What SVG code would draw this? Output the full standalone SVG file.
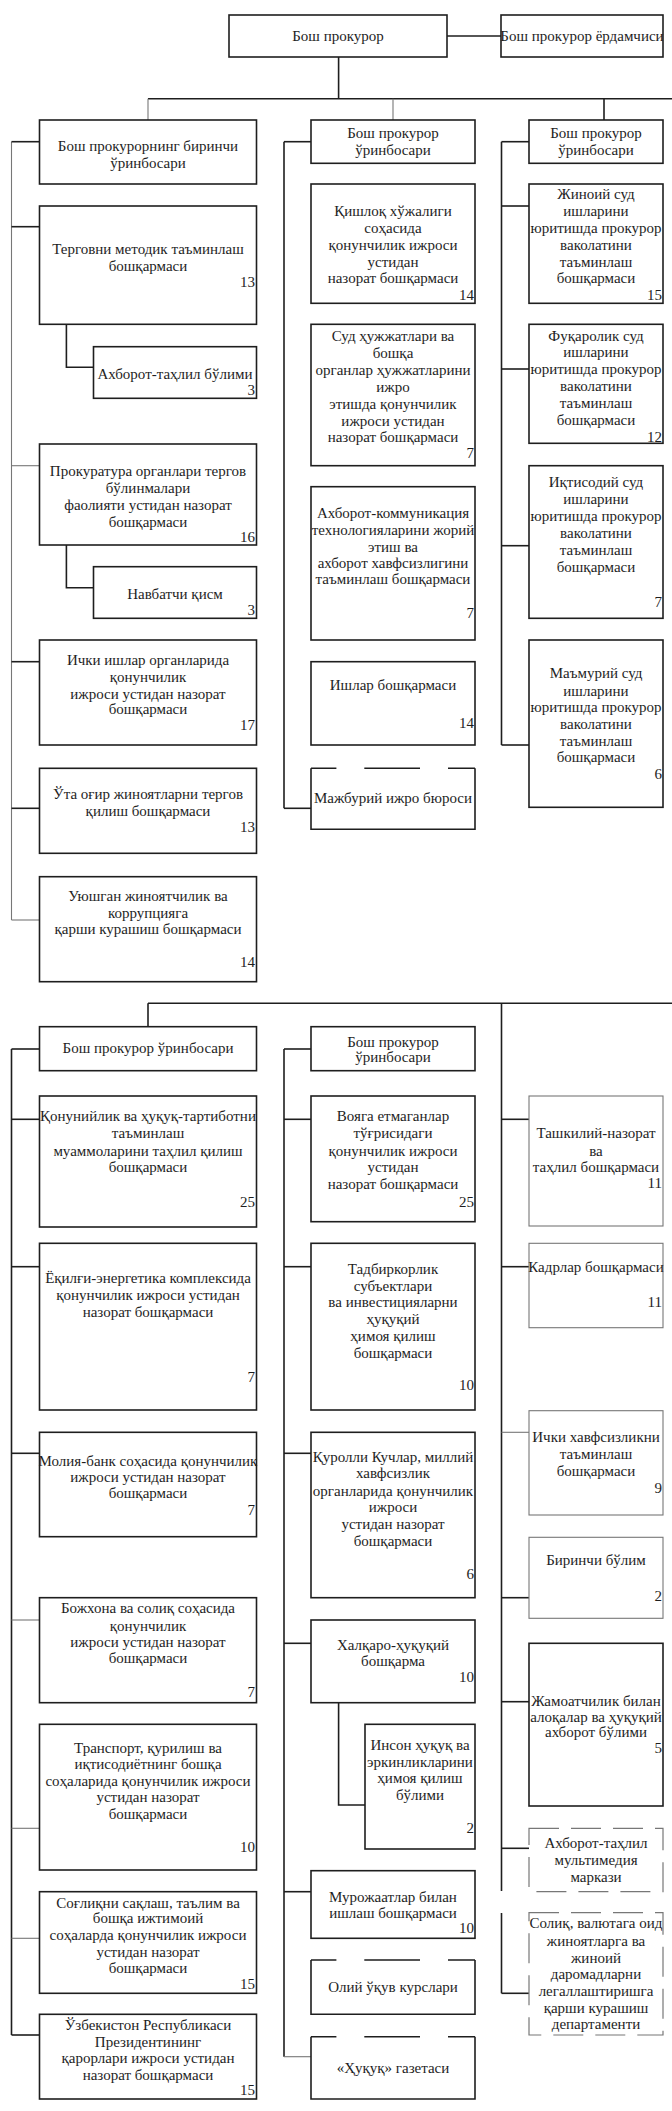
<svg xmlns="http://www.w3.org/2000/svg" width="672" height="2111" viewBox="0 0 672 2111">
<style>
.b{fill:#fff;stroke:#1e1e1e;stroke-width:1.6}
.g{fill:#fff;stroke:#777;stroke-width:1.1}
.nb{fill:#fff;stroke:none}
.e{fill:none;stroke:#1e1e1e;stroke-width:1.6}
.dd{fill:none;stroke:#777;stroke-width:1.2;stroke-dasharray:30 12}
.c{fill:none;stroke:#1e1e1e;stroke-width:1.6}
.cg{fill:none;stroke:#777;stroke-width:1.1}
text{font-family:"Liberation Serif","Times New Roman",serif;font-size:15px;fill:#1e1e1e;text-anchor:middle}
text.n{text-anchor:end}
</style>
<rect width="672" height="2111" fill="#fff"/>
<g id="connectors">
<line class="c" x1="447" y1="36" x2="501" y2="36"/>
<line class="c" x1="338.6" y1="57" x2="338.6" y2="98.7"/>
<line class="c" x1="148" y1="98.7" x2="672" y2="98.7"/>
<line class="cg" x1="148" y1="98.7" x2="148" y2="120"/>
<line class="cg" x1="393" y1="98.7" x2="393" y2="120"/>
<line class="c" x1="604" y1="98.7" x2="604" y2="120"/>
<line class="cg" x1="11.5" y1="141.7" x2="11.5" y2="920"/>
<line class="c" x1="11.5" y1="141.7" x2="39.5" y2="141.7"/>
<line class="c" x1="11.5" y1="226.7" x2="39.5" y2="226.7"/>
<line class="cg" x1="11.5" y1="465.7" x2="39.5" y2="465.7"/>
<line class="c" x1="11.5" y1="661.7" x2="39.5" y2="661.7"/>
<line class="c" x1="11.5" y1="808.3" x2="39.5" y2="808.3"/>
<line class="cg" x1="11.5" y1="920" x2="39.5" y2="920"/>
<polyline class="c" points="66.4,324.3 66.4,367.3 93.5,367.3"/>
<polyline class="c" points="66.4,545 66.4,587.7 93.5,587.7"/>
<line class="c" x1="284" y1="141.7" x2="284" y2="808.3"/>
<line class="c" x1="284" y1="141.7" x2="311" y2="141.7"/>
<line class="c" x1="284" y1="808.3" x2="311" y2="808.3"/>
<line class="c" x1="501.5" y1="141.7" x2="501.5" y2="745"/>
<line class="c" x1="501.5" y1="141.7" x2="529" y2="141.7"/>
<line class="c" x1="501.5" y1="206" x2="529" y2="206"/>
<line class="c" x1="501.5" y1="369" x2="529" y2="369"/>
<line class="c" x1="501.5" y1="545.7" x2="529" y2="545.7"/>
<line class="c" x1="501.5" y1="745" x2="529" y2="745"/>
<line class="c" x1="148" y1="1003.3" x2="672" y2="1003.3"/>
<line class="c" x1="148" y1="1003.3" x2="148" y2="1026.7"/>
<line class="c" x1="501.5" y1="1003.3" x2="501.5" y2="1891"/>
<line class="c" x1="501.5" y1="1913" x2="501.5" y2="1993.3"/>
<line class="c" x1="11.5" y1="1049" x2="11.5" y2="2035"/>
<line class="c" x1="11.5" y1="1049" x2="39.5" y2="1049"/>
<line class="c" x1="11.5" y1="1119.3" x2="39.5" y2="1119.3"/>
<line class="c" x1="11.5" y1="1266.7" x2="39.5" y2="1266.7"/>
<line class="c" x1="11.5" y1="1453.3" x2="39.5" y2="1453.3"/>
<line class="cg" x1="11.5" y1="1620" x2="39.5" y2="1620"/>
<line class="cg" x1="11.5" y1="1828.3" x2="39.5" y2="1828.3"/>
<line class="cg" x1="11.5" y1="1938.3" x2="39.5" y2="1938.3"/>
<line class="c" x1="11.5" y1="2035" x2="39.5" y2="2035"/>
<line class="c" x1="284" y1="1049" x2="284" y2="2056.7"/>
<line class="c" x1="284" y1="1049" x2="311" y2="1049"/>
<line class="c" x1="284" y1="1119.3" x2="311" y2="1119.3"/>
<line class="c" x1="284" y1="1266.7" x2="311" y2="1266.7"/>
<line class="c" x1="284" y1="1453.3" x2="311" y2="1453.3"/>
<line class="c" x1="284" y1="1643.3" x2="311" y2="1643.3"/>
<line class="c" x1="284" y1="1891.7" x2="311" y2="1891.7"/>
<line class="cg" x1="284" y1="2056.7" x2="311" y2="2056.7"/>
<polyline class="c" points="338.6,1702.7 338.6,1805 365,1805"/>
<line class="c" x1="501.5" y1="1119.3" x2="529" y2="1119.3"/>
<line class="c" x1="501.5" y1="1266.7" x2="529" y2="1266.7"/>
<line class="cg" x1="501.5" y1="1432.3" x2="529" y2="1432.3"/>
<line class="c" x1="501.5" y1="1597.7" x2="529" y2="1597.7"/>
<line class="c" x1="501.5" y1="1701.7" x2="529" y2="1701.7"/>
<line class="c" x1="501.5" y1="1848.3" x2="529" y2="1848.3"/>
<line class="c" x1="501.5" y1="1993.3" x2="529" y2="1993.3"/>
</g>

<g id="n-prokuror"><rect class="b" x="229" y="15" width="218" height="42"/><text x="338" y="41">Бош прокурор</text></g>
<g id="n-yordamchi"><rect class="b" x="501" y="15" width="162" height="42"/><text x="582" y="41">Бош прокурор ёрдамчиси</text></g>

<g id="n-dep1"><rect class="b" x="39.5" y="120" width="217" height="64"/><text x="148" y="151">Бош прокурорнинг биринчи</text><text x="148" y="168">ўринбосари</text></g>
<g id="n-dep2"><rect class="b" x="311" y="120" width="164" height="43.3"/><text x="393" y="138">Бош прокурор</text><text x="393" y="155">ўринбосари</text></g>
<g id="n-dep3"><rect class="b" x="529" y="120" width="134" height="43.3"/><text x="596" y="138">Бош прокурор</text><text x="596" y="155">ўринбосари</text></g>

<g id="n-tergov"><rect class="b" x="39.5" y="206" width="217" height="118.3"/><text x="148" y="254">Терговни методик таъминлаш</text><text x="148" y="271">бошқармаси</text><text class="n" x="255" y="287">13</text></g>
<g id="n-axborot1"><rect class="b" x="93.5" y="346.7" width="163" height="51.6"/><text x="175" y="378.5">Ахборот-таҳлил бўлими</text><text class="n" x="255" y="395">3</text></g>
<g id="n-prokuratura"><rect class="b" x="39.5" y="444" width="217" height="101"/><text x="148" y="476">Прокуратура органлари тергов</text><text x="148" y="493">бўлинмалари</text><text x="148" y="510">фаолияти устидан назорат</text><text x="148" y="527">бошқармаси</text><text class="n" x="255" y="542">16</text></g>
<g id="n-navbatchi"><rect class="b" x="93.5" y="566.7" width="163" height="51.6"/><text x="175" y="598.5">Навбатчи қисм</text><text class="n" x="255" y="615">3</text></g>
<g id="n-ichki"><rect class="b" x="39.5" y="640" width="217" height="105"/><text x="148" y="665">Ички ишлар органларида</text><text x="148" y="682">қонунчилик</text><text x="148" y="699">ижроси устидан назорат</text><text x="148" y="714">бошқармаси</text><text class="n" x="255" y="730">17</text></g>
<g id="n-uta"><rect class="b" x="39.5" y="768.3" width="217" height="85"/><text x="148" y="799">Ўта оғир жиноятларни тергов</text><text x="148" y="816">қилиш бошқармаси</text><text class="n" x="255" y="832">13</text></g>
<g id="n-uyushgan"><rect class="b" x="39.5" y="876.7" width="217" height="105"/><text x="148" y="901">Уюшган жиноятчилик ва</text><text x="148" y="918">коррупцияга</text><text x="148" y="934">қарши курашиш бошқармаси</text><text class="n" x="255" y="967">14</text></g>

<g id="n-qishloq"><rect class="b" x="311" y="184" width="164" height="119.3"/><text x="393" y="216">Қишлоқ хўжалиги</text><text x="393" y="233">соҳасида</text><text x="393" y="250">қонунчилик ижроси</text><text x="393" y="267">устидан</text><text x="393" y="283">назорат бошқармаси</text><text class="n" x="474" y="300">14</text></g>
<g id="n-sud"><rect class="b" x="311" y="324.3" width="164" height="141.4"/><text x="393" y="341">Суд ҳужжатлари ва</text><text x="393" y="358">бошқа</text><text x="393" y="375">органлар ҳужжатларини</text><text x="393" y="392">ижро</text><text x="393" y="409">этишда қонунчилик</text><text x="393" y="426">ижроси устидан</text><text x="393" y="442">назорат бошқармаси</text><text class="n" x="474" y="458">7</text></g>
<g id="n-akt"><rect class="b" x="311" y="486.7" width="164" height="153.3"/><text x="393" y="518">Ахборот-коммуникация</text><text x="393" y="535">технологияларини жорий</text><text x="393" y="552">этиш ва</text><text x="393" y="568">ахборот хавфсизлигини</text><text x="393" y="584">таъминлаш бошқармаси</text><text class="n" x="474" y="618">7</text></g>
<g id="n-ishlar"><rect class="b" x="311" y="661.7" width="164" height="83.3"/><text x="393" y="690">Ишлар бошқармаси</text><text class="n" x="474" y="728">14</text></g>
<g id="n-majburiy"><rect class="nb" x="311" y="768.3" width="164" height="61"/><path class="e" d="M311,768.3 V829.3 H475 V768.3"/><path class="e" d="M311,768.3 H336.4 M364.3,768.3 H420 M448,768.3 H475"/><text x="393" y="803">Мажбурий ижро бюроси</text></g>

<g id="n-jinoiy"><rect class="b" x="529" y="184" width="134" height="119.3"/><text x="596" y="199">Жиноий суд</text><text x="596" y="216">ишларини</text><text x="596" y="233">юритишда прокурор</text><text x="596" y="250">ваколатини</text><text x="596" y="267">таъминлаш</text><text x="596" y="283">бошқармаси</text><text class="n" x="662" y="300">15</text></g>
<g id="n-fuqarolik"><rect class="b" x="529" y="324.3" width="134" height="119"/><text x="596" y="341">Фуқаролик суд</text><text x="596" y="357">ишларини</text><text x="596" y="374">юритишда прокурор</text><text x="596" y="391">ваколатини</text><text x="596" y="408">таъминлаш</text><text x="596" y="425">бошқармаси</text><text class="n" x="662" y="442">12</text></g>
<g id="n-iqtisodiy"><rect class="b" x="529" y="465.7" width="134" height="152.6"/><text x="596" y="487">Иқтисодий суд</text><text x="596" y="504">ишларини</text><text x="596" y="521">юритишда прокурор</text><text x="596" y="538">ваколатини</text><text x="596" y="555">таъминлаш</text><text x="596" y="572">бошқармаси</text><text class="n" x="662" y="607">7</text></g>
<g id="n-mamuriy"><rect class="b" x="529" y="640" width="134" height="167.3"/><text x="596" y="678">Маъмурий суд</text><text x="596" y="696">ишларини</text><text x="596" y="712">юритишда прокурор</text><text x="596" y="729">ваколатини</text><text x="596" y="746">таъминлаш</text><text x="596" y="762">бошқармаси</text><text class="n" x="662" y="779">6</text></g>

<g id="n-dep4"><rect class="b" x="39.5" y="1026.7" width="217" height="44"/><text x="148" y="1053">Бош прокурор ўринбосари</text></g>
<g id="n-dep5"><rect class="b" x="311" y="1026.7" width="164" height="44"/><text x="393" y="1046.5">Бош прокурор</text><text x="393" y="1062">ўринбосари</text></g>

<g id="n-qonuniylik"><rect class="b" x="39.5" y="1096" width="217" height="131"/><text x="148" y="1121">Қонунийлик ва ҳуқуқ-тартиботни</text><text x="148" y="1138">таъминлаш</text><text x="148" y="1156">муаммоларини таҳлил қилиш</text><text x="148" y="1172">бошқармаси</text><text class="n" x="255" y="1207">25</text></g>
<g id="n-yoqilgi"><rect class="b" x="39.5" y="1243.3" width="217" height="166.7"/><text x="148" y="1283">Ёқилғи-энергетика комплексида</text><text x="148" y="1300">қонунчилик ижроси устидан</text><text x="148" y="1317">назорат бошқармаси</text><text class="n" x="255" y="1382">7</text></g>
<g id="n-moliya"><rect class="b" x="39.5" y="1432.3" width="217" height="104.4"/><text x="148" y="1466">Молия-банк соҳасида қонунчилик</text><text x="148" y="1482">ижроси устидан назорат</text><text x="148" y="1498">бошқармаси</text><text class="n" x="255" y="1515">7</text></g>
<g id="n-bojxona"><rect class="b" x="39.5" y="1597.7" width="217" height="105"/><text x="148" y="1613">Божхона ва солиқ соҳасида</text><text x="148" y="1631">қонунчилик</text><text x="148" y="1647">ижроси устидан назорат</text><text x="148" y="1663">бошқармаси</text><text class="n" x="255" y="1697">7</text></g>
<g id="n-transport"><rect class="b" x="39.5" y="1724.3" width="217" height="145.7"/><text x="148" y="1753">Транспорт, қурилиш ва</text><text x="148" y="1769">иқтисодиётнинг бошқа</text><text x="148" y="1786">соҳаларида қонунчилик ижроси</text><text x="148" y="1802">устидан назорат</text><text x="148" y="1819">бошқармаси</text><text class="n" x="255" y="1852">10</text></g>
<g id="n-sogliq"><rect class="b" x="39.5" y="1891.7" width="217" height="101.6"/><text x="148" y="1908">Соғлиқни сақлаш, таълим ва</text><text x="148" y="1923">бошқа ижтимоий</text><text x="148" y="1940">соҳаларда қонунчилик ижроси</text><text x="148" y="1957">устидан назорат</text><text x="148" y="1973">бошқармаси</text><text class="n" x="255" y="1989">15</text></g>
<g id="n-uzbekiston"><rect class="b" x="39.5" y="2014.3" width="217" height="84.7"/><text x="148" y="2030">Ўзбекистон Республикаси</text><text x="148" y="2047">Президентининг</text><text x="148" y="2063">қарорлари ижроси устидан</text><text x="148" y="2080">назорат бошқармаси</text><text class="n" x="255" y="2095">15</text></g>

<g id="n-voyaga"><rect class="b" x="311" y="1096" width="164" height="125.7"/><text x="393" y="1121">Вояга етмаганлар</text><text x="393" y="1138">тўғрисидаги</text><text x="393" y="1156">қонунчилик ижроси</text><text x="393" y="1172">устидан</text><text x="393" y="1189">назорат бошқармаси</text><text class="n" x="474" y="1207">25</text></g>
<g id="n-tadbirkor"><rect class="b" x="311" y="1243.3" width="164" height="166.7"/><text x="393" y="1274">Тадбиркорлик</text><text x="393" y="1291">субъектлари</text><text x="393" y="1307">ва инвестицияларни</text><text x="393" y="1324">ҳуқуқий</text><text x="393" y="1341">ҳимоя қилиш</text><text x="393" y="1358">бошқармаси</text><text class="n" x="474" y="1390">10</text></g>
<g id="n-qurolli"><rect class="b" x="311" y="1432.3" width="164" height="165.4"/><text x="393" y="1462">Қуролли Кучлар, миллий</text><text x="393" y="1478">хавфсизлик</text><text x="393" y="1496">органларида қонунчилик</text><text x="393" y="1512">ижроси</text><text x="393" y="1529">устидан назорат</text><text x="393" y="1546">бошқармаси</text><text class="n" x="474" y="1579">6</text></g>
<g id="n-xalqaro"><rect class="b" x="311" y="1620" width="164" height="82.7"/><text x="393" y="1650">Халқаро-ҳуқуқий</text><text x="393" y="1666">бошқарма</text><text class="n" x="474" y="1682">10</text></g>
<g id="n-inson"><rect class="b" x="365" y="1724.3" width="110" height="124.7"/><text x="420" y="1750">Инсон ҳуқуқ ва</text><text x="420" y="1767">эркинликларини</text><text x="420" y="1783">ҳимоя қилиш</text><text x="420" y="1800">бўлими</text><text class="n" x="474" y="1833">2</text></g>
<g id="n-murojaat"><rect class="b" x="311" y="1870.7" width="164" height="67.6"/><text x="393" y="1902">Мурожаатлар билан</text><text x="393" y="1918">ишлаш бошқармаси</text><text class="n" x="474" y="1933">10</text></g>
<g id="n-oliy"><rect class="nb" x="311" y="1960" width="164" height="54.3"/><path class="e" d="M311,1960 V2014.3 H475 V1960"/><path class="e" d="M311,1960 H336.4 M364.3,1960 H420 M448,1960 H475"/><text x="393" y="1992">Олий ўқув курслари</text></g>
<g id="n-huquq"><rect class="nb" x="311" y="2036.7" width="164" height="62.3"/><path class="e" d="M311,2036.7 V2099 H475 V2036.7"/><path class="e" d="M311,2036.7 H336.4 M364.3,2036.7 H420 M448,2036.7 H475"/><text x="393" y="2073">«Ҳуқуқ» газетаси</text></g>

<g id="n-tashkiliy"><rect class="g" x="529" y="1096" width="134" height="130"/><text x="596" y="1138">Ташкилий-назорат</text><text x="596" y="1156">ва</text><text x="596" y="1172">таҳлил бошқармаси</text><text class="n" x="662" y="1188">11</text></g>
<g id="n-kadrlar"><rect class="g" x="529" y="1243.3" width="134" height="84.4"/><text x="596" y="1272">Кадрлар бошқармаси</text><text class="n" x="662" y="1307">11</text></g>
<g id="n-ichkixavf"><rect class="g" x="529" y="1410.7" width="134" height="104.3"/><text x="596" y="1442">Ички хавфсизликни</text><text x="596" y="1459">таъминлаш</text><text x="596" y="1476">бошқармаси</text><text class="n" x="662" y="1493">9</text></g>
<g id="n-birinchi"><rect class="g" x="529" y="1537.3" width="134" height="81"/><text x="596" y="1565">Биринчи бўлим</text><text class="n" x="662" y="1601">2</text></g>
<g id="n-jamoat"><rect class="b" x="529" y="1643.3" width="134" height="162.7"/><text x="596" y="1706">Жамоатчилик билан</text><text x="596" y="1722">алоқалар ва ҳуқуқий</text><text x="596" y="1737">ахборот бўлими</text><text class="n" x="662" y="1753">5</text></g>
<g id="n-multimedia"><rect class="nb" x="529" y="1828.3" width="134" height="63.4"/><rect class="dd" x="529" y="1828.3" width="134" height="63.4"/><text x="596" y="1848">Ахборот-таҳлил</text><text x="596" y="1865">мультимедия</text><text x="596" y="1882">маркази</text></g>
<g id="n-soliq"><rect class="nb" x="529" y="1912.7" width="134" height="122.3"/><rect class="dd" x="529" y="1912.7" width="134" height="122.3"/><text x="596" y="1928">Солиқ, валютага оид</text><text x="596" y="1946">жиноятларга ва</text><text x="596" y="1963">жиноий</text><text x="596" y="1979">даромадларни</text><text x="596" y="1996">легаллаштиришга</text><text x="596" y="2013">қарши курашиш</text><text x="596" y="2029">департаменти</text></g>
</svg>
